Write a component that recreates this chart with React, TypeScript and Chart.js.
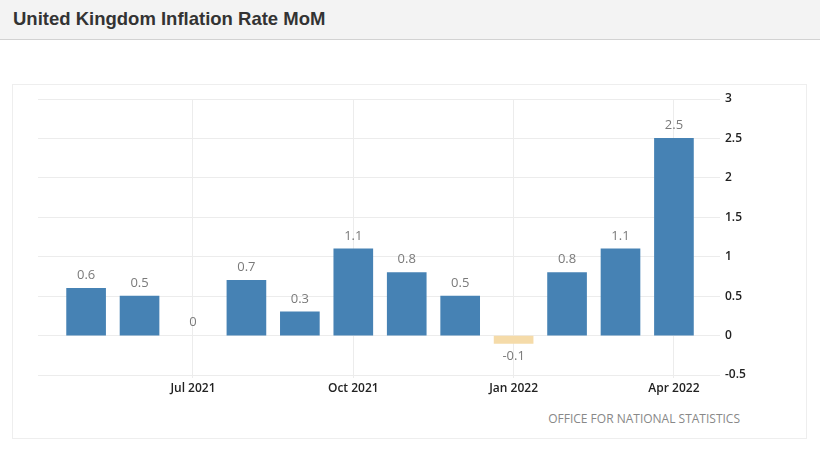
import { useEffect, useRef } from 'react';
import { Chart, ChartConfiguration, Plugin, registerables } from 'chart.js';

Chart.register(...registerables);

// Monthly change, May 2021 .. Apr 2022
const months = [
  'May 2021', 'Jun 2021', 'Jul 2021', 'Aug 2021', 'Sep 2021', 'Oct 2021',
  'Nov 2021', 'Dec 2021', 'Jan 2022', 'Feb 2022', 'Mar 2022', 'Apr 2022',
];
const momValues = [0.6, 0.5, 0, 0.7, 0.3, 1.1, 0.8, 0.5, -0.1, 0.8, 1.1, 2.5];
const labelledMonths = [2, 5, 8, 11];
const yTicks = [-0.5, 0, 0.5, 1, 1.5, 2, 2.5, 3];

const BLUE = '#4682b4';
const NEG = '#f5dba9';

const valueLabels: Plugin<'bar'> = {
  id: 'valueLabels',
  afterDatasetsDraw(chart) {
    const { ctx } = chart;
    const meta = chart.getDatasetMeta(0);
    const yZero = chart.scales.y.getPixelForValue(0);
    ctx.save();
    ctx.font = '13px "Open Sans"';
    ctx.fillStyle = '#7a7a7a';
    ctx.textAlign = 'center';
    ctx.textBaseline = 'middle';
    meta.data.forEach((el: any, i) => {
      const v = momValues[i];
      const y = v < 0 ? el.y + 13 : Math.min(el.y, yZero) - 13;
      ctx.fillText(String(v), el.x, y);
    });
    ctx.restore();
  },
};

export default function App() {
  const canvasRef = useRef<HTMLCanvasElement>(null);
  const chartRef = useRef<Chart | null>(null);

  useEffect(() => {
    if (!canvasRef.current) return;
    if (chartRef.current) chartRef.current.destroy();

    const config: ChartConfiguration<'bar'> = {
      type: 'bar',
      data: {
        datasets: [{
          data: momValues.map((v, i) => ({ x: i, y: v })) as any,
          backgroundColor: momValues.map((v) => (v < 0 ? NEG : v === 0 ? 'rgba(0,0,0,0)' : BLUE)),
          borderWidth: 0,
          barThickness: 39,
        }],
      },
      options: {
        responsive: false,
        maintainAspectRatio: false,
        animation: false,
        layout: { padding: { left: 25, top: 14, right: 0, bottom: 0 } },
        plugins: {
          legend: { display: false },
          tooltip: { enabled: false },
        },
        scales: {
          x: {
            type: 'linear',
            offset: false,
            min: -0.9,
            max: 11.6,
            afterBuildTicks: (scale) => {
              scale.ticks = labelledMonths.map((v) => ({ value: v }));
            },
            afterFit: (scale) => {
              scale.height = 30;
            },
            grid: { color: '#ececec', tickLength: 3, offset: false },
            border: { display: false },
            ticks: {
              color: '#222',
              font: { family: 'Open Sans', size: 12, weight: 600 },
              padding: 3,
              maxRotation: 0,
              callback: (v) => months[Number(v)] ?? '',
            },
          },
          y: {
            position: 'right',
            min: -0.5,
            max: 3,
            afterBuildTicks: (scale) => {
              scale.ticks = yTicks.map((v) => ({ value: v }));
            },
            afterFit: (scale) => {
              scale.width = 100;
            },
            grid: { color: '#ececec', tickLength: 14 },
            border: { display: false },
            ticks: {
              color: '#222',
              font: { family: 'Open Sans', size: 12, weight: 600 },
              padding: 5,
              callback: (v) => String(v),
            },
          },
        },
      },
      plugins: [valueLabels],
    };

    chartRef.current = new Chart(canvasRef.current, config);
    return () => {
      chartRef.current?.destroy();
      chartRef.current = null;
    };
  }, []);

  return (
    <div style={{ position: 'absolute', left: 0, top: 0, width: 820, height: 453, background: '#fff', overflow: 'hidden' }}>
      <style>{'body{margin:0}'}</style>
      <div
        style={{
          position: 'absolute', left: 0, top: 0, width: 820, height: 39,
          background: '#f3f3f3', borderBottom: '1px solid #d2d2d2',
        }}
      >
        <div
          style={{
            position: 'absolute', left: 13, top: 8,
            font: 'bold 18.5px "Liberation Sans", Arial, sans-serif', color: '#333',
          }}
        >
          United Kingdom Inflation Rate MoM
        </div>
      </div>
      <div
        style={{
          position: 'absolute', left: 12, top: 84, width: 793, height: 353,
          border: '1px solid #eeeeee',
        }}
      />
      <canvas
        ref={canvasRef}
        width={793}
        height={320}
        style={{ position: 'absolute', left: 13, top: 85, width: 793, height: 320 }}
      />
      <div
        style={{
          position: 'absolute', right: 80, top: 410,
          font: '12px "Open Sans", sans-serif', color: '#888',
        }}
      >
        OFFICE FOR NATIONAL STATISTICS
      </div>
    </div>
  );
}
